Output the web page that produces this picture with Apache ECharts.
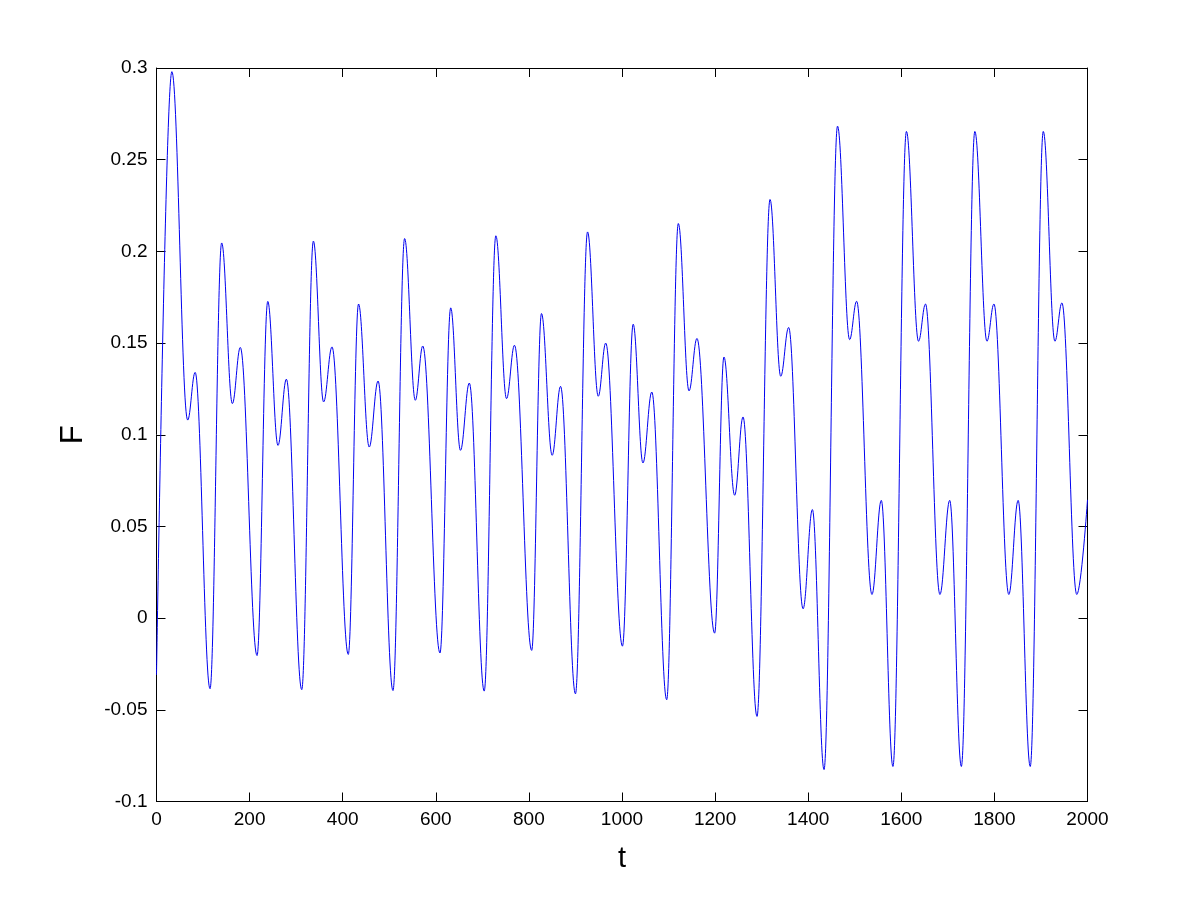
<!DOCTYPE html>
<html>
<head>
<meta charset="utf-8">
<script src="https://cdn.jsdelivr.net/npm/echarts@6/dist/echarts.min.js"></script>
<style>
html,body{margin:0;padding:0;background:#fff;}
#chart{width:1201px;height:900px;}
</style>
</head>
<body>
<div id="chart"></div>
<script>
// time values (t) of the curve's turning points
const tValues = [
  0, 33, 67, 83, 115, 140, 163, 180, 216, 239, 261, 279, 312, 337, 359, 377, 412, 434, 457, 476,
  508, 533, 556, 572, 609, 632, 653, 672, 704, 729, 752, 769, 806, 827, 850, 868, 900, 926, 949, 965,
  1001, 1024, 1045, 1064, 1096, 1121, 1144, 1161, 1199, 1219, 1242, 1260, 1290, 1318, 1341, 1358,
  1389, 1409, 1434, 1463, 1489, 1504, 1537, 1557, 1582, 1611, 1637, 1652, 1683, 1704, 1729, 1758,
  1784, 1799, 1831, 1851, 1877, 1905, 1930, 1945, 1977, 2000
];
// F values at those points
const fValues = [
  -0.031, 0.298, 0.108, 0.134, -0.0385, 0.2046, 0.117, 0.1476, -0.0204, 0.1727, 0.0942, 0.1303, -0.039, 0.2056, 0.1179, 0.1479, -0.0198, 0.1713, 0.0933, 0.1293,
  -0.0395, 0.207, 0.1188, 0.1484, -0.019, 0.1692, 0.0915, 0.1282, -0.0398, 0.2085, 0.1197, 0.1488, -0.0176, 0.1661, 0.0888, 0.1264, -0.0413, 0.2106, 0.121, 0.150,
  -0.0153, 0.1603, 0.0846, 0.1233, -0.0445, 0.2152, 0.1239, 0.1525, -0.0082, 0.1424, 0.067, 0.1097, -0.0536, 0.2283, 0.1319, 0.1585,
  0.0051, 0.0592, -0.0826, 0.2683, 0.1519, 0.1728, 0.0129, 0.0642, -0.0809, 0.2654, 0.151, 0.1713, 0.0129, 0.0642, -0.0809, 0.2654,
  0.151, 0.1713, 0.0129, 0.0642, -0.0809, 0.2654, 0.151, 0.1719, 0.0129, 0.0645
];
const xTickLabels = ['0','200','400','600','800','1000','1200','1400','1600','1800','2000'];
const yTickLabels = ['-0.1','-0.05','0','0.05','0.1','0.15','0.2','0.25','0.3'];
const xLabel = 't';
const yLabel = 'F';

const FONT = 'Liberation Sans, Arial, Helvetica, sans-serif';
const xMin = 0, xMax = 2000, xStep = 200;
const yMin = -0.1, yMax = 0.3, yStep = 0.05;

const points = tValues.map((t, i) => [t, fValues[i]]);

const frame = {lineStyle: {color: '#000', width: 1}};
const tickIn = {show: true, inside: true, length: 9, lineStyle: {color: '#000', width: 1}};

const chart = echarts.init(document.getElementById('chart'), null, {renderer: 'canvas'});
chart.setOption({
  backgroundColor: '#fff',
  animation: false,
  grid: {left: 156.5, right: 113.5, top: 68, bottom: 98.5, containLabel: false},
  xAxis: [
    {
      type: 'value', position: 'bottom', min: xMin, max: xMax, interval: xStep,
      axisLine: Object.assign({show: true, onZero: false}, frame),
      axisTick: tickIn,
      splitLine: {show: false},
      axisLabel: {
        color: '#000', fontSize: 19, fontFamily: FONT, margin: 9,
        formatter: v => xTickLabels[Math.round((v - xMin) / xStep)] ?? ''
      },
      name: xLabel, nameLocation: 'middle', nameGap: 43,
      nameTextStyle: {color: '#000', fontSize: 29, fontFamily: FONT}
    },
    {
      type: 'value', position: 'top', min: xMin, max: xMax, interval: xStep,
      axisLine: Object.assign({show: true, onZero: false}, frame),
      axisTick: tickIn, axisLabel: {show: false}, splitLine: {show: false}
    }
  ],
  yAxis: [
    {
      type: 'value', position: 'left', min: yMin, max: yMax, interval: yStep,
      axisLine: Object.assign({show: true, onZero: false}, frame),
      axisTick: tickIn,
      splitLine: {show: false},
      axisLabel: {
        color: '#000', fontSize: 19, fontFamily: FONT, margin: 9,
        formatter: v => yTickLabels[Math.round((v - yMin) / yStep)] ?? ''
      },
      name: yLabel, nameLocation: 'middle', nameGap: 68, nameRotate: 90,
      nameTextStyle: {color: '#000', fontSize: 31, fontFamily: FONT}
    },
    {
      type: 'value', position: 'right', min: yMin, max: yMax, interval: yStep,
      axisLine: Object.assign({show: true, onZero: false}, frame),
      axisTick: tickIn, axisLabel: {show: false}, splitLine: {show: false}
    }
  ],
  series: [{
    type: 'line',
    data: points,
    xAxisIndex: 0, yAxisIndex: 0,
    showSymbol: false, symbol: 'none',
    smooth: 0.38, smoothMonotone: 'x',
    lineStyle: {color: '#0000f0', width: 1},
    clip: true
  }]
});
</script>
</body>
</html>
